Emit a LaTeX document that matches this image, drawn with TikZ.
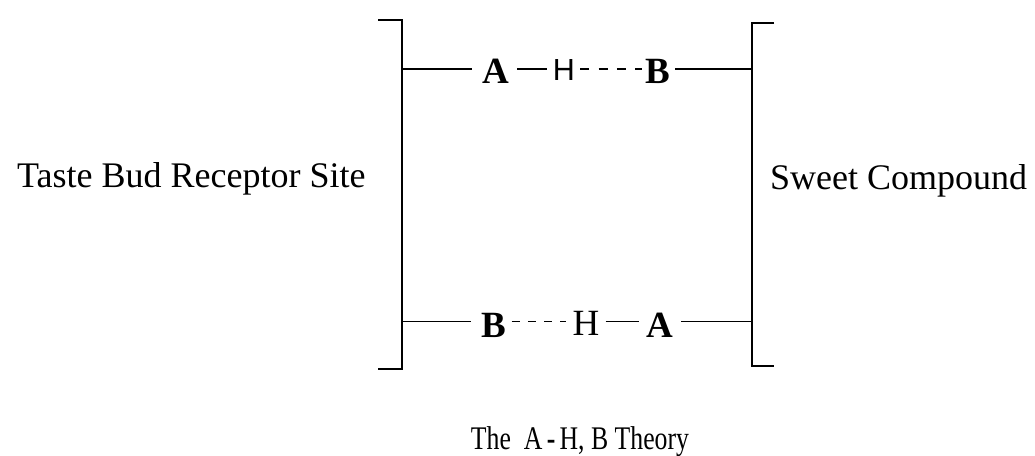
\documentclass[tikz,border=0pt]{standalone}
\usepackage{fontspec}
\setmainfont{Liberation Serif}
\newfontfamily\hsans{Liberation Sans}
\begin{document}
\begin{tikzpicture}[x=1pt,y=-1pt,
  bracketline/.style={line width=2.4pt},
  bond/.style={line width=1.9pt},
  hbond/.style={line width=1.9pt,dash pattern=on 9pt off 9.3pt},
  hbondb/.style={line width=1.9pt,dash pattern=on 8pt off 8.3pt},
  atom/.style={inner sep=0pt,anchor=base,font=\fontsize{37}{40}\selectfont\bfseries},
  hatom/.style={inner sep=0pt,anchor=base,font=\fontsize{37}{40}\selectfont},
  hsatom/.style={inner sep=0pt,anchor=base,font=\fontsize{30.5}{34}\hsans},
  label/.style={inner sep=0pt,anchor=base west,font=\fontsize{36}{40}\selectfont}]
\useasboundingbox (0,0) rectangle (1035,455);
% brackets
\coordinate (LT) at (378,20);
\coordinate (LTc) at (402,20);
\coordinate (LBc) at (402,369);
\coordinate (LB) at (378,369);
\coordinate (RT) at (774,23);
\coordinate (RTc) at (752,23);
\coordinate (RBc) at (752,366);
\coordinate (RB) at (774,366);
\draw[bracketline,line join=miter] (LT) -- (LTc) -- (LBc) -- (LB);
\draw[bracketline,line join=miter] (RT) -- (RTc) -- (RBc) -- (RB);
% row coordinates
\coordinate (L1) at (402,69);
\coordinate (R1) at (752,69);
\coordinate (L2) at (402,321.5);
\coordinate (R2) at (752,321.5);
% top row
\node[atom]   (tA) at (495.5,83) {A};
\node[hsatom] (tH) at (564,80) {H};
\node[atom]   (tB) at (657.5,83) {B};
\draw[bond] (L1) -- ([xshift=-10pt]L1 -| tA.west);
\draw[bond] ([xshift=8pt]L1 -| tA.east) -- ([xshift=-6pt]L1 -| tH.west);
\draw[hbond] ([xshift=5pt]L1 -| tH.east) -- ([xshift=-3pt]L1 -| tB.west);
\draw[bond] ([xshift=5pt]L1 -| tB.east) -- (R1);
% bottom row
\node[atom]  (bB) at (494,337) {B};
\node[hatom] (bH) at (586,335) {H};
\node[atom]  (bA) at (659.5,337) {A};
\draw[bond] (L2) -- ([xshift=-10pt]L2 -| bB.west);
\draw[hbondb] ([xshift=5pt]L2 -| bB.east) -- ([xshift=-6pt]L2 -| bH.west);
\draw[bond] ([xshift=6pt]L2 -| bH.east) -- ([xshift=-7pt]L2 -| bA.west);
\draw[bond] ([xshift=8pt]L2 -| bA.east) -- (R2);
% labels
\node[label] (taste) at (17,187) {Taste Bud Receptor Site};
\node[label] (sweet) at (770,189) {Sweet Compound};
\node[inner sep=0pt,anchor=base,font=\fontsize{33}{36}\selectfont] (cap) at (580,449)
  {\scalebox{0.78}[1]{The\ \ A\,\textbf{-}\,H, B Theory}};
\end{tikzpicture}
\end{document}
